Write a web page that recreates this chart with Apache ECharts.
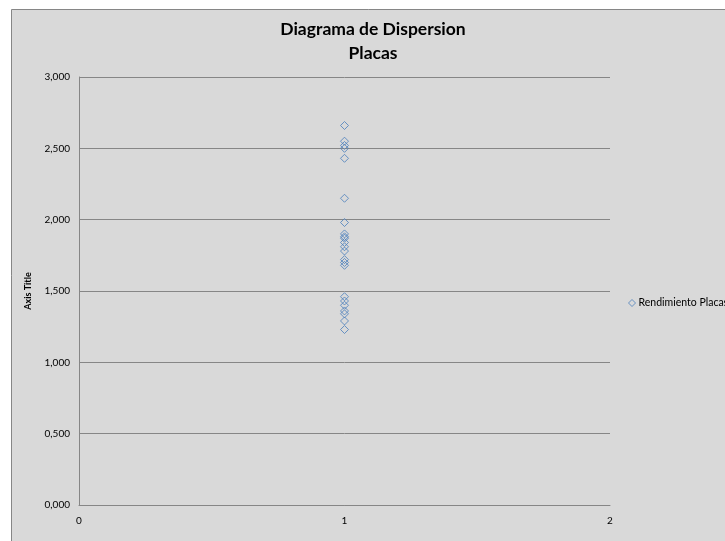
<!DOCTYPE html>
<html>
<head>
<meta charset="utf-8">
<script src="https://cdn.jsdelivr.net/npm/echarts@6/dist/echarts.min.js"></script>
<style>
  html, body { margin: 0; padding: 0; background: #ffffff; }
  #chart { width: 725px; height: 541px; }
</style>
</head>
<body>
<div id="chart"></div>
<script>
// Rendimiento por placa (all samples belong to group 1)
const xGroup = [1, 1, 1, 1, 1, 1, 1, 1, 1, 1, 1, 1, 1, 1, 1, 1, 1, 1, 1, 1, 1, 1, 1];
const rendimiento = [2.66, 2.55, 2.52, 2.50, 2.43, 2.15, 1.98, 1.90, 1.88, 1.87, 1.84, 1.81, 1.78,
                     1.72, 1.70, 1.68, 1.46, 1.43, 1.40, 1.36, 1.34, 1.29, 1.23];
const xTicks = [0, 1, 2];
const yTicks = [0, 0.5, 1, 1.5, 2, 2.5, 3];
const seriesName = 'Rendimiento Placas';
const titleLines = ['Diagrama de Dispersion', 'Placas'];
const yAxisTitle = 'Axis Title';

const points = xGroup.map((x, i) => [x, rendimiento[i]]);
const font = 'Lato, "Open Sans", sans-serif';
const fmt = v => v.toFixed(3).replace('.', ',');
const markerBlue = '#4a7ebb';

const chart = echarts.init(document.getElementById('chart'), null, { renderer: 'canvas' });
chart.setOption({
  backgroundColor: '#ffffff',
  animation: false,
  color: [markerBlue],
  graphic: [{
    type: 'rect', z: -10, silent: true,
    shape: { x: 11.5, y: 9.5, width: 720, height: 540 },
    style: { fill: '#d9d9d9', stroke: '#868686', lineWidth: 1 }
  }],
  title: {
    text: titleLines.join('\n'),
    left: 373, top: 17, textAlign: 'center', padding: 0,
    textStyle: { fontFamily: font, fontSize: 17.5, fontWeight: 'bold', color: '#000000', lineHeight: 24, align: 'center' }
  },
  legend: {
    data: [{ name: seriesName, icon: 'diamond' }],
    left: 626, top: 297, padding: 0, itemWidth: 7, itemHeight: 7, itemGap: 4,
    textStyle: { fontFamily: font, fontSize: 10.5, color: '#000000', padding: [0, 0, 0, -2] },
    itemStyle: { color: 'none', borderColor: markerBlue, borderWidth: 1 }
  },
  grid: { left: 79, right: 115, top: 77, bottom: 36, containLabel: false },
  xAxis: {
    type: 'value', min: xTicks[0], max: xTicks[xTicks.length - 1], interval: 1,
    axisLine: { show: true, onZero: false, lineStyle: { color: '#868686', width: 1 } },
    axisTick: { show: false },
    splitLine: { show: false },
    axisLabel: { fontFamily: font, fontSize: 10, color: '#000000', margin: 11 }
  },
  yAxis: {
    type: 'value', min: yTicks[0], max: yTicks[yTicks.length - 1], interval: 0.5,
    name: yAxisTitle, nameLocation: 'middle', nameGap: 46, nameRotate: 90,
    nameTextStyle: { fontFamily: font, fontSize: 9, fontWeight: 'bold', color: '#000000' },
    axisLine: { show: true, lineStyle: { color: '#868686', width: 1 } },
    axisTick: { show: false },
    splitLine: { show: true, lineStyle: { color: '#868686', width: 1 } },
    axisLabel: { fontFamily: font, fontSize: 10, color: '#000000', margin: 9, formatter: fmt }
  },
  series: [{
    name: seriesName,
    type: 'scatter',
    data: points,
    symbol: 'diamond',
    symbolSize: 8,
    emphasis: { disabled: true },
    itemStyle: { color: 'none', borderColor: markerBlue, borderWidth: 1 }
  }]
});
</script>
</body>
</html>
